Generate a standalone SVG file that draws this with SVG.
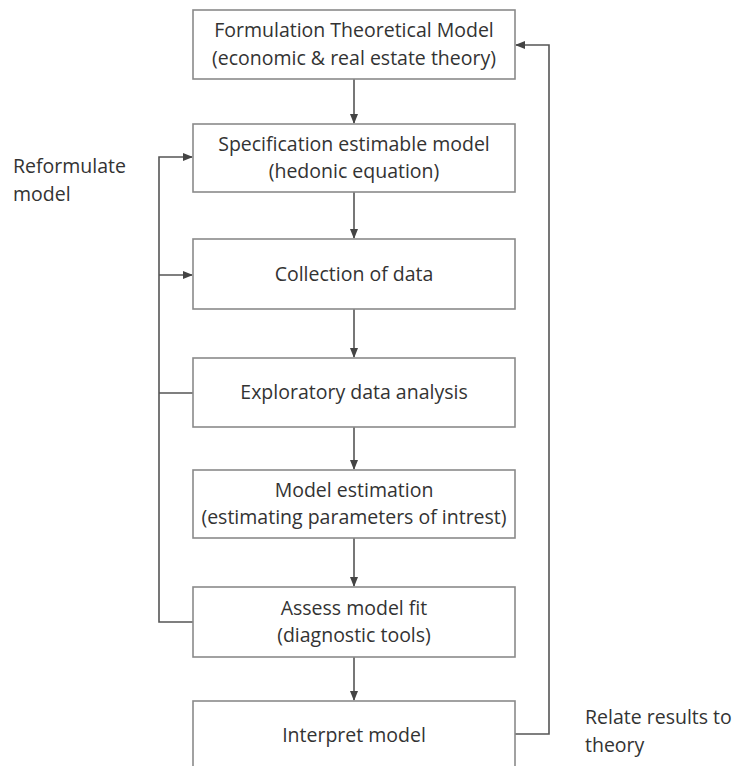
<svg xmlns="http://www.w3.org/2000/svg" width="738" height="766" viewBox="0 0 738 766">
<style>
.box{fill:#fff;stroke:#8a8a8a;stroke-width:1.6}
.t{font-family:"Open Sans","Liberation Sans",sans-serif;font-size:19.5px;fill:#333;text-anchor:middle}
.l{font-family:"Open Sans","Liberation Sans",sans-serif;font-size:19.5px;fill:#333}
.c{fill:none;stroke:#555;stroke-width:1.6}
</style>
<defs>
<marker id="ah" markerWidth="10" markerHeight="8" refX="9" refY="4" orient="auto" markerUnits="userSpaceOnUse">
<path d="M0,0 L10,4 L0,8 Z" fill="#444"/>
</marker>
</defs>
<rect width="738" height="766" fill="#fff"/>
<g id="connectors">
<line class="c" x1="354" y1="79" x2="354" y2="123" marker-end="url(#ah)"/>
<line class="c" x1="354" y1="192" x2="354" y2="238" marker-end="url(#ah)"/>
<line class="c" x1="354" y1="309" x2="354" y2="357" marker-end="url(#ah)"/>
<line class="c" x1="354" y1="427" x2="354" y2="469" marker-end="url(#ah)"/>
<line class="c" x1="354" y1="538" x2="354" y2="586" marker-end="url(#ah)"/>
<line class="c" x1="354" y1="657" x2="354" y2="700" marker-end="url(#ah)"/>
<polyline class="c" points="193,622 159,622 159,157 192,157" marker-end="url(#ah)"/>
<line class="c" x1="159" y1="275" x2="192" y2="275" marker-end="url(#ah)"/>
<line class="c" x1="193" y1="393" x2="159" y2="393"/>
<polyline class="c" points="515,734 549,734 549,45 516,45" marker-end="url(#ah)"/>
</g>
<g id="n1"><rect class="box" x="193" y="10" width="322" height="69"/>
<text class="t" x="354" y="37">Formulation Theoretical Model</text>
<text class="t" x="354" y="65">(economic &amp; real estate theory)</text></g>
<g id="n2"><rect class="box" x="193" y="124" width="322" height="68"/>
<text class="t" x="354" y="151">Specification estimable model</text>
<text class="t" x="354" y="178">(hedonic equation)</text></g>
<g id="n3"><rect class="box" x="193" y="239" width="322" height="70"/>
<text class="t" x="354" y="281">Collection of data</text></g>
<g id="n4"><rect class="box" x="193" y="358" width="322" height="69"/>
<text class="t" x="354" y="399">Exploratory data analysis</text></g>
<g id="n5"><rect class="box" x="193" y="470" width="322" height="68"/>
<text class="t" x="354" y="497">Model estimation</text>
<text class="t" x="354" y="524">(estimating parameters of intrest)</text></g>
<g id="n6"><rect class="box" x="193" y="587" width="322" height="70"/>
<text class="t" x="354" y="615">Assess model fit</text>
<text class="t" x="354" y="642">(diagnostic tools)</text></g>
<g id="n7"><rect class="box" x="193" y="701" width="322" height="72"/>
<text class="t" x="354" y="742">Interpret model</text></g>
<g id="labels">
<text class="l" x="13" y="173">Reformulate</text>
<text class="l" x="13" y="201">model</text>
<text class="l" x="585" y="724">Relate results to</text>
<text class="l" x="585" y="752">theory</text>
</g>
</svg>
